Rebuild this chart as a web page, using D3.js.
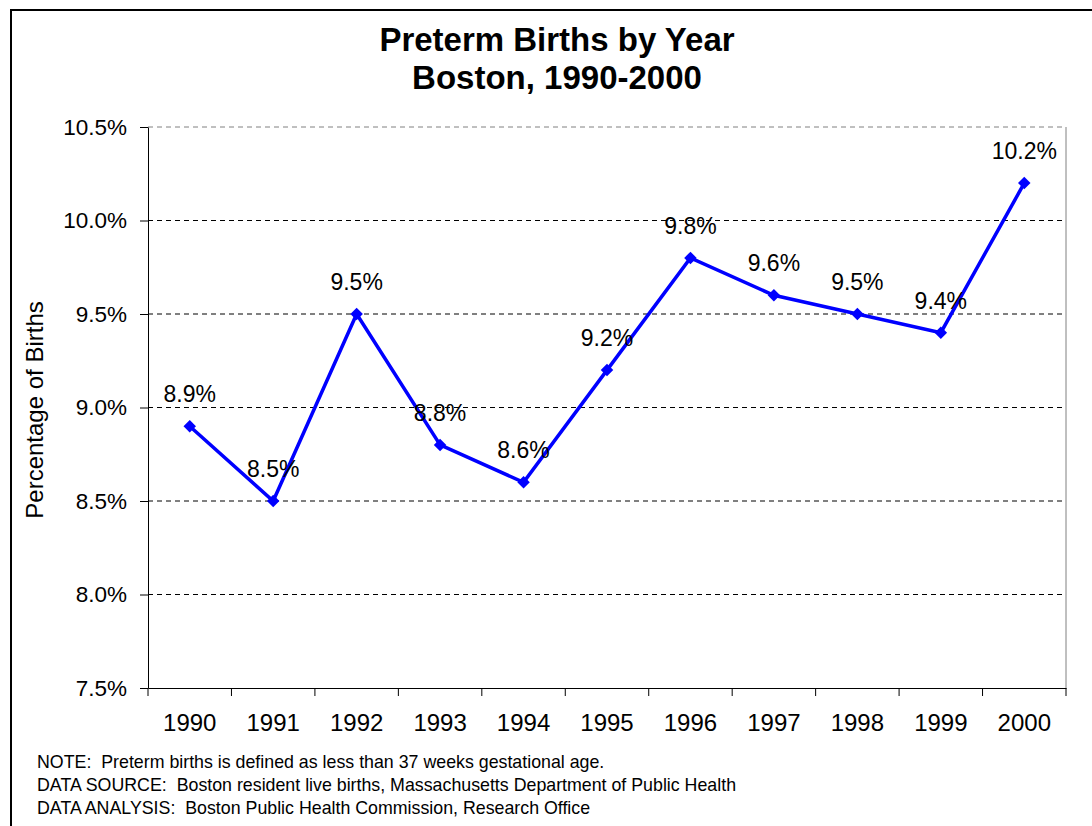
<!DOCTYPE html>
<html>
<head>
<meta charset="utf-8">
<script src="https://cdn.jsdelivr.net/npm/d3@7"></script>
<style>
  html, body { margin: 0; padding: 0; background: #fff; }
  svg { display: block; }
  text { font-family: "Liberation Sans", Arial, sans-serif; fill: #000; }
</style>
</head>
<body>
<svg id="chart" width="1092" height="826"></svg>
<script>
// Preterm births as a percentage of live births, Boston
const years = ["1990", "1991", "1992", "1993", "1994", "1995", "1996", "1997", "1998", "1999", "2000"];
const pretermPct = [8.9, 8.5, 9.5, 8.8, 8.6, 9.2, 9.8, 9.6, 9.5, 9.4, 10.2];
const yTicks = [7.5, 8.0, 8.5, 9.0, 9.5, 10.0, 10.5];
const titleLines = ["Preterm Births by Year", "Boston, 1990-2000"];
const yAxisTitle = "Percentage of Births";
const notes = [
  "NOTE:  Preterm births is defined as less than 37 weeks gestational age.",
  "DATA SOURCE:  Boston resident live births, Massachusetts Department of Public Health",
  "DATA ANALYSIS:  Boston Public Health Commission, Research Office"
];

const svg = d3.select("#chart");
const plot = { left: 148, right: 1066, top: 127, bottom: 688 };

// Outer chart frame (runs off the right and bottom edges)
svg.append("rect")
  .attr("x", 11).attr("y", 10)
  .attr("width", 1100).attr("height", 840)
  .attr("fill", "none").attr("stroke", "#000").attr("stroke-width", 2);

const x = d3.scaleBand().domain(years).range([plot.left, plot.right]);
const y = d3.scaleLinear().domain([7.5, 10.5]).range([plot.bottom, plot.top]);
const fmt = v => d3.format(".1f")(v) + "%";

// Horizontal gridlines
svg.append("g").selectAll("line")
  .data(yTicks.filter(v => v > 7.5))
  .join("line")
  .attr("x1", plot.left).attr("x2", plot.right)
  .attr("y1", d => y(d)).attr("y2", d => y(d))
  .attr("stroke", d => d === 10.5 ? "#808080" : "#000")
  .attr("stroke-width", 1)
  .attr("stroke-dasharray", "5,4");

// Right edge of the plot area
svg.append("line")
  .attr("x1", plot.right).attr("x2", plot.right)
  .attr("y1", plot.top).attr("y2", plot.bottom)
  .attr("stroke", "#808080").attr("stroke-width", 1);

// Y axis
const yAxis = svg.append("g")
  .attr("transform", `translate(${plot.left},0)`)
  .call(d3.axisLeft(y).tickValues(yTicks).tickFormat(fmt)
    .tickSize(8).tickSizeOuter(0).tickPadding(13));
yAxis.select(".domain").attr("stroke", "#000");
yAxis.selectAll(".tick line").attr("stroke", "#000");
yAxis.selectAll("text")
  .style("font-family", "'Liberation Sans', Arial, sans-serif")
  .style("font-size", "22.5px").attr("fill", "#000");

// X axis: labels centred on each year, tick marks between categories
const xAxis = svg.append("g")
  .attr("transform", `translate(0,${plot.bottom})`)
  .call(d3.axisBottom(x).tickSize(0).tickSizeOuter(0).tickPadding(26));
xAxis.select(".domain").attr("stroke", "#000");
xAxis.selectAll("text")
  .style("font-family", "'Liberation Sans', Arial, sans-serif")
  .style("font-size", "24px").attr("fill", "#000");
const boundaries = years.map(d => x(d)).concat([x(years[years.length - 1]) + x.bandwidth()]);
xAxis.selectAll("line.bound")
  .data(boundaries)
  .join("line")
  .attr("class", "bound")
  .attr("x1", d => d).attr("x2", d => d)
  .attr("y1", 0).attr("y2", 8)
  .attr("stroke", "#000");

// Data series
const points = years.map((yr, i) => ({ year: yr, value: pretermPct[i] }));
const cx = d => x(d.year) + x.bandwidth() / 2;

svg.append("path")
  .datum(points)
  .attr("fill", "none")
  .attr("stroke", "#0000ff")
  .attr("stroke-width", 3.5)
  .attr("stroke-linejoin", "miter")
  .attr("d", d3.line().x(cx).y(d => y(d.value)));

svg.append("g").selectAll("path")
  .data(points)
  .join("path")
  .attr("d", d3.symbol(d3.symbolSquare, 78)())
  .attr("transform", d => `translate(${cx(d)},${y(d.value)}) rotate(45)`)
  .attr("fill", "#0000ff");

// Value labels
svg.append("g").selectAll("text")
  .data(points)
  .join("text")
  .attr("x", cx)
  .attr("y", d => y(d.value) - 24)
  .attr("text-anchor", "middle")
  .style("font-size", "23px")
  .text(d => fmt(d.value));

// Title
svg.append("g").selectAll("text")
  .data(titleLines)
  .join("text")
  .attr("x", 557)
  .attr("y", (d, i) => 51 + i * 38)
  .attr("text-anchor", "middle")
  .style("font-size", "33px")
  .style("font-weight", "bold")
  .text(d => d);

// Y axis title
svg.append("text")
  .attr("transform", "translate(43,410) rotate(-90)")
  .attr("text-anchor", "middle")
  .style("font-size", "24px")
  .text(yAxisTitle);

// Footnotes
svg.append("g").selectAll("text")
  .data(notes)
  .join("text")
  .attr("x", 37)
  .attr("y", (d, i) => 768 + i * 23)
  .style("font-size", "17.8px")
  .style("white-space", "pre")
  .text(d => d);
</script>
</body>
</html>
